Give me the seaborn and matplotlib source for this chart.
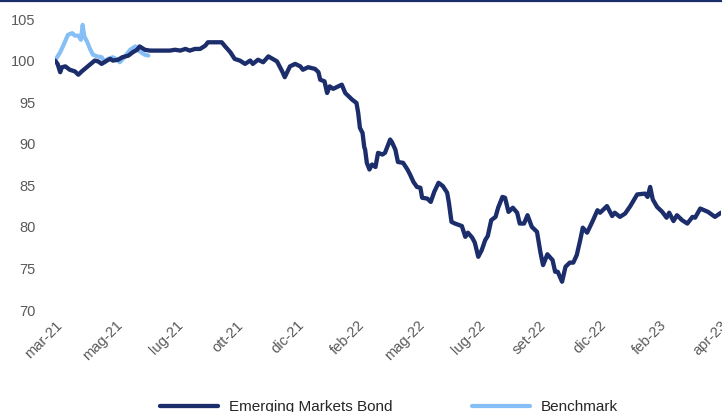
import pandas as pd
import seaborn as sns
import matplotlib
matplotlib.use("Agg")
import matplotlib.pyplot as plt
from matplotlib.lines import Line2D

# weekly-ish readings, days counted from the first point (12 mar 2021)
start = pd.Timestamp("2021-03-12")

em_days = [0, 3, 6, 8, 12, 17, 23, 27, 31, 38, 44, 46, 50, 54, 60, 64, 67, 73, 78, 85,
           90, 95, 98, 104, 110, 122, 133, 139, 145, 151, 156, 162, 168, 174, 177, 185, 193, 197, 203, 208,
           214, 220, 226, 229, 235, 241, 247, 257, 263, 266, 272, 278, 284, 287, 293, 301, 305, 307, 312, 315,
           318, 322, 328, 332, 336, 339, 344, 349, 351, 353, 356, 358, 359, 361, 364, 367, 371, 374, 379, 382,
           388, 390, 394, 397, 403, 408, 411, 415, 419, 423, 425, 431, 435, 439, 444, 449, 454, 456, 459, 463,
           471, 475, 478, 483, 486, 490, 494, 498, 501, 505, 510, 513, 518, 521, 525, 530, 535, 538, 543, 547,
           552, 558, 562, 565, 570, 576, 579, 582, 587, 591, 596, 600, 604, 608, 611, 616, 622, 628, 631, 639,
           645, 648, 654, 660, 666, 674, 683, 686, 689, 692, 697, 703, 708, 711, 716, 720, 726, 732, 738, 741,
           747, 756, 764, 771]
em_vals = [100.0, 99.6, 98.6, 99.2, 99.3, 98.9, 98.7, 98.3, 98.7, 99.3, 99.8, 100.0, 99.9, 99.6, 100.0, 100.2, 100.0, 100.1, 100.4, 100.6,
           101.0, 101.3, 101.7, 101.3, 101.2, 101.2, 101.2, 101.3, 101.2, 101.4, 101.2, 101.4, 101.4, 101.8, 102.2, 102.2, 102.2, 101.7, 101.0, 100.2,
           100.0, 99.6, 100.0, 99.6, 100.1, 99.8, 100.5, 99.9, 98.7, 98.0, 99.3, 99.6, 99.3, 98.9, 99.2, 99.0, 98.6, 97.7, 97.5, 96.1,
           96.9, 96.6, 96.9, 97.1, 96.1, 95.8, 95.3, 94.9, 93.7, 91.9, 91.3, 89.6, 89.3, 87.7, 86.9, 87.5, 87.2, 88.9, 88.7, 88.9,
           90.5, 90.2, 89.3, 87.8, 87.7, 86.9, 86.3, 85.4, 84.8, 84.7, 83.5, 83.4, 83.0, 84.2, 85.3, 84.9, 84.1, 82.9, 80.6, 80.4,
           80.1, 78.8, 79.3, 78.7, 78.1, 76.4, 77.2, 78.4, 78.9, 80.8, 81.2, 82.3, 83.6, 83.5, 81.8, 82.3, 81.7, 80.4, 80.4, 81.4,
           80.0, 79.4, 76.9, 75.4, 76.7, 76.0, 74.6, 74.6, 73.4, 75.2, 75.7, 75.7, 76.6, 78.4, 79.9, 79.3, 80.6, 82.0, 81.7, 82.5,
           81.3, 81.7, 81.2, 81.6, 82.5, 83.9, 84.0, 83.6, 84.8, 83.3, 82.4, 81.8, 81.1, 81.7, 80.7, 81.4, 80.8, 80.4, 81.2, 81.1,
           82.2, 81.8, 81.2, 81.7]

bm_days = [0, 6, 10, 15, 20, 23, 27, 30, 32, 34, 37, 41, 44, 49, 54, 58, 61, 67, 72, 75,
           81, 87, 93, 98, 104, 108]
bm_vals = [100.0, 101.0, 101.9, 103.1, 103.3, 103.0, 103.0, 102.5, 104.3, 102.9, 102.3, 101.3, 100.7, 100.5, 100.4, 99.8, 100.2, 100.4, 100.1, 99.8,
           100.5, 101.3, 101.7, 101.1, 100.7, 100.6]

tick_labels = ["mar-21", "mag-21", "lug-21", "ott-21", "dic-21", "feb-22",
               "mag-22", "lug-22", "set-22", "dic-22", "feb-23", "apr-23"]
tick_step = 70  # days between labels

navy = "#1c2d6b"
light = "#85bff5"
grey = "#595959"

em = pd.DataFrame({"date": start + pd.to_timedelta(em_days, unit="D"), "value": em_vals})
bm = pd.DataFrame({"date": start + pd.to_timedelta(bm_days, unit="D"), "value": bm_vals})

sns.set_style("white")
plt.rcParams["font.family"] = ["Liberation Sans", "DejaVu Sans"]

fig = plt.figure(figsize=(7.22, 4.12), dpi=100)
ax = fig.add_axes([55 / 722, (412 - 310) / 412, 666 / 722, 291 / 412])

sns.lineplot(data=bm, x="date", y="value", color=light, lw=3, ax=ax, label="Benchmark")
sns.lineplot(data=em, x="date", y="value", color=navy, lw=3.1, ax=ax, label="Emerging Markets Bond")

ax.set_xlim(start, start + pd.Timedelta(days=771))
ax.set_ylim(70, 105)
ax.set_yticks(range(70, 106, 5))
ticks = [start + pd.Timedelta(days=tick_step * k) for k in range(len(tick_labels))]
ax.set_xticks(ticks)
ax.set_xticklabels(tick_labels, rotation=45, ha="right", rotation_mode="anchor")
ax.tick_params(axis="y", length=0, pad=14, labelsize=10.5, labelcolor=grey)
ax.tick_params(axis="x", length=0, pad=6, labelsize=10.5, labelcolor=grey)
ax.set_xlabel("")
ax.set_ylabel("")
ax.grid(False)
sns.despine(ax=ax, left=True, bottom=True)

handles, labels = ax.get_legend_handles_labels()
ax.legend_.remove()
fig.legend(handles[::-1], labels[::-1], loc="center", bbox_to_anchor=(389 / 722, 0.012),
           ncol=2, frameon=False, fontsize=11, handlelength=3.8, handletextpad=0.7,
           columnspacing=5.2, borderpad=0)

# thin navy rule along the top edge
fig.add_artist(Line2D([0, 1], [0.9976, 0.9976], transform=fig.transFigure, color=navy, lw=1.6))

plt.savefig("out.png", dpi=100)
